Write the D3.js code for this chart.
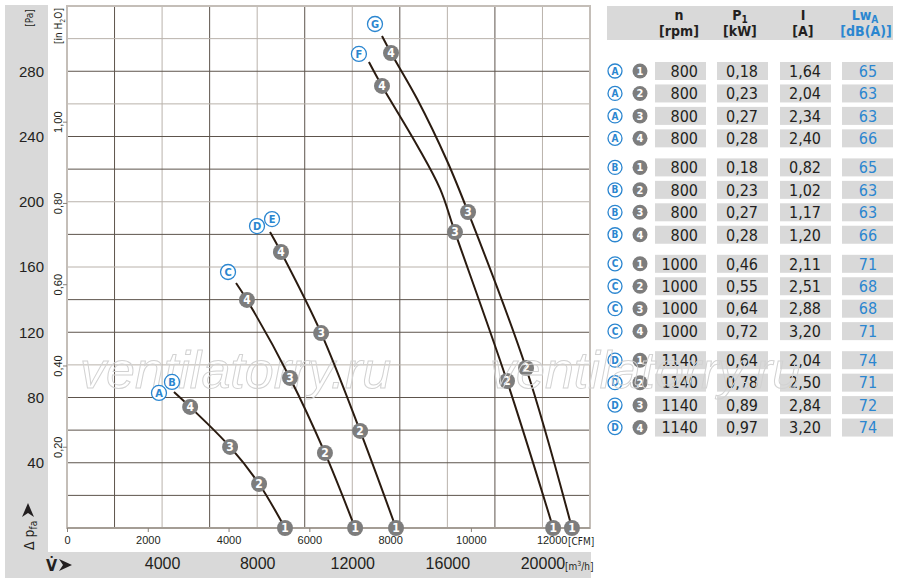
<!doctype html>
<html>
<head>
  <meta charset="utf8">
  <title>fan curves</title>
  <style>
    body {
      margin: 0;
      padding: 0;
      background: #fff;
    }
    svg {
      display: block;
      font-family: "Liberation Sans Narrow", "DejaVu Sans Condensed", sans-serif;
    }
  </style>
</head>
<body>
  <svg></svg>

  <script src="https://d3js.org/d3.v7.min.js"></script>
  <script>
    // curve points: [airflow m3/h, pressure Pa, operating point no. (0 = plain point)]
    const curveAB = [[4500, 83.4, 0], [5180, 74.2, 4], [6860, 49.7, 3], [8080, 27.0, 2], [9170, 0, 1]]
    const curveC = [[7110, 150.2, 0], [7570, 139.8, 4], [9380, 92.0, 3], [10850, 46.0, 2], [12120, 0, 1]]
    const curveDE = [[8540, 181.4, 0], [9000, 169.2, 4], [10690, 119.5, 3], [12330, 59.5, 2], [13840, 0, 1]]
    const curveF = [[12700, 285.7, 0], [13250, 271.0, 4], [14730, 234.5, 0], [15690, 208.0, 0],
      [16320, 181.4, 3], [18510, 90.1, 2], [20450, 0, 1]]
    const curveG = [[13250, 301.6, 0], [13630, 291.2, 4], [14730, 263.0, 0], [15990, 225.0, 0],
      [16870, 193.7, 3], [19310, 98.1, 2], [21240, 0, 1]]

    const curveNames = [['A', 'B'], ['C'], ['D', 'E'], ['F'], ['G']]

    // axis ticks
    const paTicks = [40, 80, 120, 160, 200, 240, 280]
    const inTicks = [0.2, 0.4, 0.6, 0.8, 1.0]
    const cfmTicks = [0, 2000, 4000, 6000, 8000, 10000, 12000]
    const m3hTicks = [4000, 8000, 12000, 16000, 20000]

    // table
    const tblFan = ['A', 'A', 'A', 'A', 'B', 'B', 'B', 'B', 'C', 'C', 'C', 'C', 'D', 'D', 'D', 'D']
    const tblPoint = [1, 2, 3, 4, 1, 2, 3, 4, 1, 2, 3, 4, 1, 2, 3, 4]
    const tblRpm = [800, 800, 800, 800, 800, 800, 800, 800, 1000, 1000, 1000, 1000, 1140, 1140, 1140, 1140]
    const tblP1 = ['0,18', '0,23', '0,27', '0,28', '0,18', '0,23', '0,27', '0,28',
      '0,46', '0,55', '0,64', '0,72', '0,64', '0,78', '0,89', '0,97']
    const tblI = ['1,64', '2,04', '2,34', '2,40', '0,82', '1,02', '1,17', '1,20',
      '2,11', '2,51', '2,88', '3,20', '2,04', '2,50', '2,84', '3,20']
    const tblLwA = [65, 63, 63, 66, 65, 63, 63, 66, 71, 68, 68, 71, 74, 71, 72, 74]

    const width = 900
    const height = 583
    const ink = '#231f20'
    const blue = '#2b86d0'
    const panel = '#d9d9d9'
    const dotGrey = '#7d7d7d'

    const svg = d3.select('svg')
      .attr('width', width)
      .attr('height', height)

    const x = d3.scaleLinear().domain([0, 22000]).range([67, 590])
    const y = d3.scaleLinear().domain([0, 320]).range([528, 6])
    const xCfm = d3.scaleLinear().domain([0, 22000 / 1.699]).range([67, 590])
    const yIn = d3.scaleLinear().domain([0, 320 / 249.09]).range([528, 6])

    // grey panels
    svg.append('rect').attr('x', 5).attr('y', 5).attr('width', 43).attr('height', 573).attr('fill', panel)
    svg.append('rect').attr('x', 5).attr('y', 552).attr('width', 586).attr('height', 26).attr('fill', panel)

    // grid
    const grid = svg.append('g')
    const lightX = [4000, 8000, 12000, 16000, 20000]
    const lightY = [300, 260, 200, 160, 100]
    grid.selectAll('.gx').data(d3.range(2000, 22000, 2000)).join('line')
      .attr('x1', d => x(d)).attr('x2', d => x(d))
      .attr('y1', y(320)).attr('y2', y(0))
      .attr('stroke', d => lightX.includes(d) ? '#b9b2ab' : '#5d544c')
      .attr('stroke-width', 1)
    grid.selectAll('.gy').data(d3.range(20, 320, 20)).join('line')
      .attr('x1', x(0)).attr('x2', x(22000))
      .attr('y1', d => y(d)).attr('y2', d => y(d))
      .attr('stroke', d => lightY.includes(d) ? '#b9b2ab' : '#5d544c')
      .attr('stroke-width', 1)
    grid.append('rect')
      .attr('x', x(0)).attr('y', y(320))
      .attr('width', x(22000) - x(0)).attr('height', y(0) - y(320))
      .attr('fill', 'none').attr('stroke', '#c4beb8').attr('stroke-width', 2)
    grid.append('line')
      .attr('x1', x(0)).attr('x2', x(22000)).attr('y1', y(0)).attr('y2', y(0))
      .attr('stroke', '#9a928a').attr('stroke-width', 1.5)

    // watermark
    svg.append('text')
      .attr('x', 80).attr('y', 388)
      .style('font-family', 'Liberation Sans, Arial, sans-serif')
      .style('font-style', 'italic').style('font-size', '52px')
      .attr('fill', 'none').attr('stroke', '#d2d2d2').attr('stroke-width', 1)
      .text('ventilatorry.ru')

    // Pa axis
    const paAxis = svg.append('g')
      .attr('transform', 'translate(48,0)')
      .call(d3.axisLeft(y).tickValues(paTicks).tickSize(0).tickPadding(4))
    paAxis.select('.domain').remove()
    paAxis.selectAll('text')
      .style('font-family', '"Liberation Sans", Arial, sans-serif')
      .style('font-size', '15px')
      .attr('fill', ink)
    svg.append('text')
      .attr('transform', 'translate(33,18) rotate(-90)')
      .style('font-size', '10px').attr('fill', ink)
      .attr('text-anchor', 'middle')
      .text('[Pa]')

    // in H2O axis
    const inAxis = svg.append('g')
      .attr('transform', `translate(${x(0)},0)`)
      .call(d3.axisLeft(yIn).tickValues(inTicks).tickSize(4)
        .tickFormat(d => d3.format('.2f')(d).replace('.', ',')))
    inAxis.select('.domain').remove()
    inAxis.selectAll('line').attr('stroke', '#8a827a')
    inAxis.selectAll('text')
      .attr('x', null).attr('dy', null)
      .attr('transform', 'translate(-5,0) rotate(-90)')
      .attr('text-anchor', 'middle')
      .style('font-size', '11px')
      .attr('fill', ink)
    const inLabel = svg.append('text')
      .attr('transform', 'translate(62,26) rotate(-90)')
      .attr('text-anchor', 'middle')
      .style('font-size', '10px').attr('fill', ink)
    inLabel.append('tspan').text('[in H')
    inLabel.append('tspan').attr('dy', 3).style('font-size', '7px').text('2')
    inLabel.append('tspan').attr('dy', -3).text('O]')

    // CFM axis
    const cfmAxis = svg.append('g')
      .attr('transform', `translate(0,${y(0)})`)
      .call(d3.axisBottom(xCfm).tickValues(cfmTicks).tickSize(4).tickPadding(4)
        .tickFormat(d3.format('d')))
    cfmAxis.select('.domain').remove()
    cfmAxis.selectAll('line').attr('stroke', '#8a827a')
    cfmAxis.selectAll('text').style('font-size', '11px').attr('fill', ink)
    svg.append('text')
      .attr('x', 568).attr('y', 545)
      .style('font-size', '10px').attr('fill', ink)
      .text('[CFM]')

    // m3/h axis
    const m3Axis = svg.append('g')
      .attr('transform', 'translate(0,552)')
      .call(d3.axisBottom(x).tickValues(m3hTicks).tickSize(0).tickPadding(6)
        .tickFormat(d3.format('d')))
    m3Axis.select('.domain').remove()
    m3Axis.selectAll('text').style('font-size', '16px').attr('fill', ink)
    const m3Unit = svg.append('text')
      .attr('x', 565).attr('y', 570)
      .style('font-size', '10px').attr('fill', ink)
    m3Unit.append('tspan').text('[m')
    m3Unit.append('tspan').attr('dy', -4).style('font-size', '7px').text('3')
    m3Unit.append('tspan').attr('dy', 4).text('/h]')

    // axis titles with arrowheads
    svg.append('text')
      .attr('x', 46).attr('y', 571)
      .style('font-size', '16px').style('font-weight', 'bold').attr('fill', ink)
      .text('V\u0307')
    svg.append('path')
      .attr('d', 'M59,559 L72,565 L59,571 L63,565 Z')
      .attr('fill', ink)
    const pTitle = svg.append('text')
      .attr('transform', 'translate(34,550) rotate(-90)')
      .style('font-size', '14px').attr('fill', ink)
    pTitle.append('tspan').text('\u0394 p')
    pTitle.append('tspan').attr('dy', 3).style('font-size', '10px').text('fa')
    svg.append('path')
      .attr('d', 'M22,517 L28,503 L34,517 L28,513 Z')
      .attr('fill', ink)

    // curves
    const lineGen = d3.line()
      .x(d => x(d[0]))
      .y(d => y(d[1]))
      .curve(d3.curveCatmullRom.alpha(0.5))

    const curves = [curveAB, curveC, curveDE, curveF, curveG]
    svg.append('g').selectAll('path').data(curves).join('path')
      .attr('d', lineGen)
      .attr('fill', 'none')
      .attr('stroke', '#2a1b10')
      .attr('stroke-width', 2)

    // operating point markers
    const points = curves.flatMap(c => c.filter(d => d[2] > 0))
    const pts = svg.append('g').selectAll('g').data(points).join('g')
      .attr('transform', d => `translate(${x(d[0])},${y(d[1])})`)
    pts.append('circle').attr('r', 8).attr('fill', dotGrey)
    pts.append('text')
      .attr('text-anchor', 'middle').attr('dy', '0.36em')
      .style('font-size', '12px').style('font-weight', 'bold')
      .attr('fill', '#fff')
      .text(d => d[2])

    // curve letters, offsets in px from the curve start
    const letterOffsets = { A: [-15, 1], B: [-2, -10], C: [-8, -11], D: [-13, -6], E: [2, -13], F: [-10, -8], G: [-7, -12] }
    const letters = curveNames.flatMap((names, i) => names.map(n => ({ n, p: curves[i][0] })))
    const lg = svg.append('g').selectAll('g').data(letters).join('g')
      .attr('transform', d => `translate(${x(d.p[0]) + letterOffsets[d.n][0]},${y(d.p[1]) + letterOffsets[d.n][1]})`)
    lg.append('circle').attr('r', 7.5).attr('fill', '#fff').attr('stroke', blue).attr('stroke-width', 1.3)
    lg.append('text')
      .attr('text-anchor', 'middle').attr('dy', '0.36em')
      .style('font-size', '11px').style('font-weight', 'bold')
      .attr('fill', blue)
      .text(d => d.n)

    // table
    const tbl = svg.append('g')
    tbl.append('rect').attr('x', 607).attr('y', 6).attr('width', 286).attr('height', 34).attr('fill', panel)
    const cols = [
      { x: 655, w: 51, values: tblRpm, anchor: 'end', tx: 698, color: ink },
      { x: 717, w: 51, values: tblP1, anchor: 'middle', tx: 742, color: ink },
      { x: 780, w: 51, values: tblI, anchor: 'middle', tx: 805, color: ink },
      { x: 842, w: 51, values: tblLwA, anchor: 'middle', tx: 868, color: blue }
    ]
    const head = tbl.append('g').style('font-size', '14px').style('font-weight', 'bold')
    const h1 = [['n', 679], ['P', 740], ['I', 803], ['Lw', 865]]
    const h2 = [['[rpm]', 679], ['[kW]', 740], ['[A]', 803], ['[dB(A)]', 866]]
    h1.forEach(([t, hx], i) => {
      const el = head.append('text').attr('x', hx).attr('y', 20).attr('text-anchor', 'middle')
        .attr('fill', i === 3 ? blue : ink)
      el.append('tspan').text(t)
      if (i === 1) el.append('tspan').attr('dy', 3).style('font-size', '10px').text('1')
      if (i === 3) el.append('tspan').attr('dy', 3).style('font-size', '10px').text('A')
    })
    h2.forEach(([t, hx], i) => {
      head.append('text').attr('x', hx).attr('y', 36).attr('text-anchor', 'middle')
        .attr('fill', i === 3 ? blue : ink).text(t)
    })

    const rowY = i => 71 + i * 22.45 + Math.floor(i / 4) * 6.6
    const rows = tbl.selectAll('.row').data(tblFan).join('g')
      .attr('transform', (d, i) => `translate(0,${rowY(i)})`)
    rows.append('circle').attr('cx', 615).attr('r', 7)
      .attr('fill', '#fff').attr('stroke', blue).attr('stroke-width', 1.3)
    rows.append('text').attr('x', 615).attr('dy', '0.36em').attr('text-anchor', 'middle')
      .style('font-size', '10px').style('font-weight', 'bold').attr('fill', blue)
      .text(d => d)
    rows.append('circle').attr('cx', 640).attr('r', 7.5).attr('fill', dotGrey)
    rows.append('text').attr('x', 640).attr('dy', '0.36em').attr('text-anchor', 'middle')
      .style('font-size', '11px').style('font-weight', 'bold').attr('fill', '#fff')
      .text((d, i) => tblPoint[i])
    cols.forEach(c => {
      rows.append('rect').attr('x', c.x).attr('y', -9).attr('width', c.w).attr('height', 18).attr('fill', panel)
      rows.append('text').attr('x', c.tx).attr('dy', '0.36em').attr('text-anchor', c.anchor)
        .style('font-size', '16px').attr('fill', c.color)
        .text((d, i) => c.values[i])
    })

    // second watermark, drawn over the table
    svg.append('text')
      .attr('x', 490).attr('y', 388)
      .style('font-family', 'Liberation Sans, Arial, sans-serif')
      .style('font-style', 'italic').style('font-size', '52px')
      .attr('fill', 'none').attr('stroke', '#d2d2d2').attr('stroke-width', 1)
      .text('ventilatorry.ru')
  </script>
</body>
</html>
